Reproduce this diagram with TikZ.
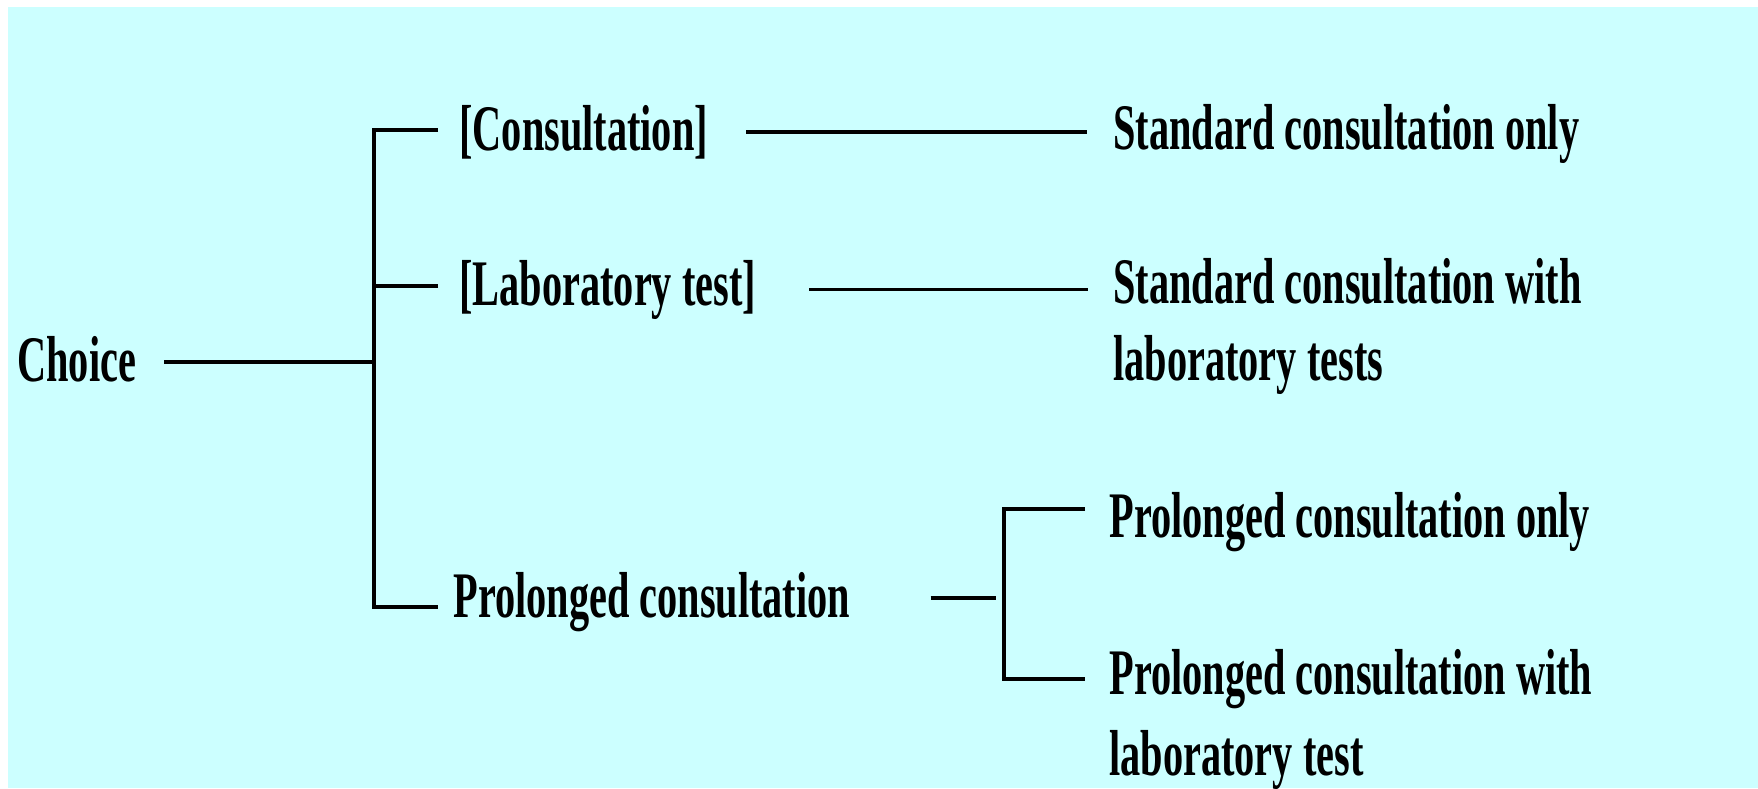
\documentclass[tikz,border=0pt]{standalone}
\usepackage{fontspec}
\newfontfamily\diagfont{Liberation Serif}[FakeStretch=0.62]
\usetikzlibrary{positioning}
\definecolor{paleaqua}{HTML}{CCFFFF}

\begin{document}
\begin{tikzpicture}[
  x=0.5pt, y=-0.5pt,
  lbl/.style={
    anchor=base west, inner sep=0pt, align=left,
    font=\diagfont\bfseries\fontsize{32.5pt}{38.5pt}\selectfont
  },
  link/.style={line width=1.75pt}
]
  % canvas
  \fill[white] (0,0) rectangle (1758,788);
  \fill[paleaqua] (8,7) rectangle (1758,788);
  \useasboundingbox (0,0) rectangle (1758,788);

  \node[lbl] (choice) at (17,381) {Choice};
  \node[lbl] (cons) at (459,150) {[Consultation]};
  \node[lbl] (lab) at (459,305) {[Laboratory test]};
  \node[lbl] (prol) at (453,617) {Prolonged consultation};

  % two-line labels sit on the baseline of their last line
  \node[lbl] (stdonly) at (1113,149) {Standard consultation only};
  \node[lbl] (stdlab) at (1113,380) {Standard consultation with\\laboratory tests};
  \node[lbl] (prolonly) at (1109,537) {Prolonged consultation only};
  \node[lbl] (prollab) at (1109,775) {Prolonged consultation with\\[2pt]laboratory test};

  % bracket corners
  \coordinate (cj) at (374,362);
  \coordinate (ctop) at (374,130);
  \coordinate (clab) at (374,286);
  \coordinate (cbot) at (374,607);
  \coordinate (pj) at (1004,598);
  \coordinate (ptop) at (1004,509);
  \coordinate (pbot) at (1004,679);

  \draw[link] ([xshift=14pt]choice.east |- cj) -- (cj);
  \draw[link] ([xshift=-10.5pt]cons.west |- ctop) -- (ctop) -- (cbot)
    -- ([xshift=-7.5pt]prol.west |- cbot);
  \draw[link] ([xshift=-10.5pt]lab.west |- clab) -- (clab);

  \draw[link] ([xshift=19pt]cons.east) -- ([xshift=-13pt]cons.east -| stdonly.west);
  \draw[link] ([xshift=26.5pt]lab.east) -- ([xshift=-12.5pt]lab.east -| stdlab.west);
  \draw[link] ([xshift=40pt]prol.east |- pj) -- ([xshift=-4pt]pj);

  \draw[link] ([xshift=-12pt]prolonly.west |- ptop) -- (ptop) -- (pbot)
    -- ([xshift=-12pt]prollab.west |- pbot);
\end{tikzpicture}
\end{document}
